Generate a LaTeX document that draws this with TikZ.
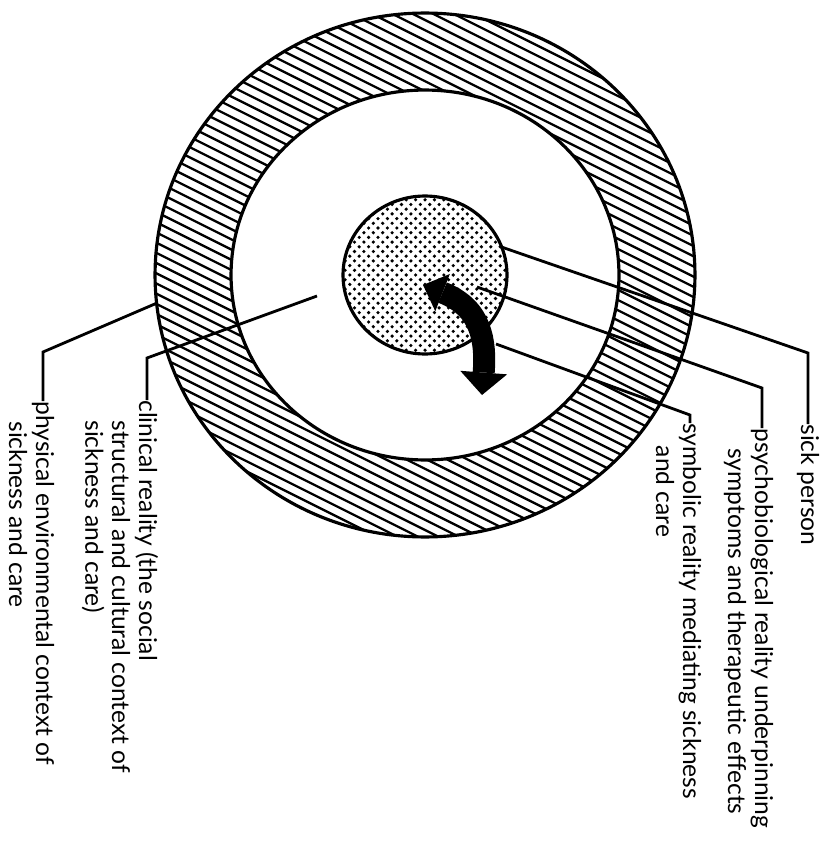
\documentclass[tikz,border=0pt]{standalone}
\usepackage{fontspec}
\setmainfont{Lato}
\usepackage{tikz}
\usetikzlibrary{positioning,shapes,arrows.meta,calc}

\begin{document}
\begin{tikzpicture}[x=0.02cm, y=0.02cm,
        ring/.style={ellipse, draw, line width=1.8pt, outer sep=0pt, inner sep=0pt},
        hatch/.style={line width=1.3pt},
        leader/.style={line width=1.6pt},
        swing/.style={line width=0.44cm, {Triangle[length=0.42cm,width=0.8cm,line width=0pt]}-{Triangle[length=0.45cm,width=0.94cm,line width=0pt]}},
        lbl/.style={rotate=-90, anchor=north west, inner sep=0pt, align=left, font=\fontsize{14}{15.3}\selectfont}
    ]
        \useasboundingbox (0,0) rectangle (822,-841);

        % Rings (path pictures are drawn from the node centre)
        \node[ring, minimum width=10.8cm, minimum height=10.48cm, path picture={
            \foreach \k in {-42,...,42}
                \draw[hatch] (-290,{\k*10.2+145}) -- ++(580,-290);
        }] (outer) at (425,-275) {};
        \node[ring, fill=white, minimum width=7.76cm, minimum height=7.4cm] (middle) at (425,-275) {};
        \node[ring, minimum width=3.28cm, minimum height=3.16cm, path picture={
            \foreach \j in {-18,...,18}
                \foreach \i in {-9,...,9}
                    \fill ({\i*9.4+mod(\j,2)*4.7},{\j*4.7}) circle (1.8);
        }] (core) at (425,-275) {};

        % Arrow
        \coordinate (arrA) at (423,-285);
        \coordinate (arrB) at (482,-395);
        \draw[swing] (arrA) .. controls (482,-308) and (486,-342) .. (arrB);

        % Sick person
        \node[lbl] (sick) at (819.5,-424) {sick person};
        \coordinate (sickK) at (808,-353);
        \draw[leader] (core.20) -- (sickK) -- (sickK |- sick.north west);

        % Psychobiological reality
        \node[lbl] (psy) at (773.5,-428) {psychobiological reality underpinning\\\hspace*{0.4cm}symptoms and therapeutic effects};
        \coordinate (psyS) at (477,-287);
        \coordinate (psyK) at (762,-388);
        \draw[leader] (psyS) -- (psyK) -- (psyK |- psy.north west);

        % Symbolic reality
        \node[lbl] (sym) at (701.5,-423) {symbolic reality mediating sickness\\\hspace*{0.45cm}and care};
        \coordinate (symS) at (496,-344);
        \coordinate (symK) at (690,-415);
        \draw[leader] (symS) -- (symK) -- (symK |- sym.north west);

        % Clinical reality
        \node[lbl] (clin) at (158.5,-400) {clinical reality (the social\\\hspace*{0.4cm}structural and cultural context of\\\hspace*{0.4cm}sickness and care)};
        \coordinate (clinS) at (317,-296);
        \coordinate (clinK) at (147,-358);
        \draw[leader] (clinS) -- (clinK) -- (clinK |- clin.north west);

        % Physical environment
        \node[lbl] (phys) at (54.5,-401) {physical environmental context of\\\hspace*{0.4cm}sickness and care};
        \coordinate (physK) at (43,-352);
        \draw[leader] (outer.186) -- (physK) -- (physK |- phys.north west);
    \end{tikzpicture}
\end{document}
